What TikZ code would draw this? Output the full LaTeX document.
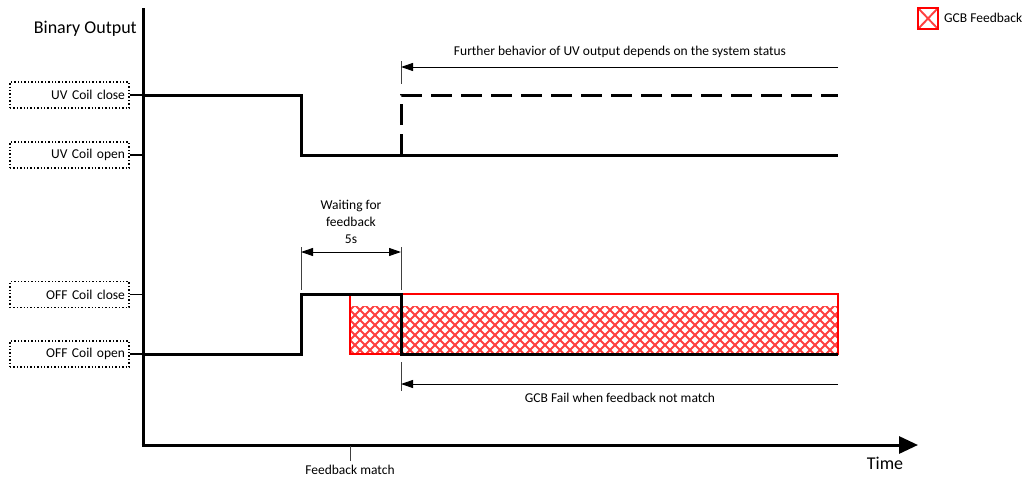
\documentclass[tikz,border=0pt]{standalone}
\usepackage{fontspec}
\setmainfont{Carlito}
\usetikzlibrary{arrows.meta}
\tikzset{
  lbl/.style={draw, dotted, line width=1.4pt, text width=111pt, align=right, inner sep=4pt,
              minimum height=26pt, font=\fontsize{13.5}{16}\selectfont},
  txt/.style={font=\fontsize{13.5}{17}\selectfont, inner sep=0pt, align=center},
  bigtxt/.style={font=\fontsize{18}{20}\selectfont, inner sep=0pt},
  sig/.style={line width=3pt, line join=miter},
  dsig/.style={line width=3pt, dash pattern=on 21pt off 9pt},
  thin/.style={line width=1pt, draw=black!75},
  stub/.style={line width=1.4pt},
  axis/.style={line width=3pt},
  tip/.style={-{Triangle[length=12pt,width=8pt]}},
  dtip/.style={{Triangle[length=12pt,width=8pt]}-{Triangle[length=12pt,width=8pt]}},
  hatch/.style={draw=red!75, line width=1.9pt},
  fb/.style={draw=red, line width=1.4pt},
}
\begin{document}
\begin{tikzpicture}[x=1pt,y=-1pt]
\useasboundingbox (0,0) rectangle (1027,479);
\fill[white] (0,0) rectangle (1027,479);

% axes
\coordinate (origin) at (143,445);
\coordinate (ytop) at (143,8);
\coordinate (xend) at (918,445);
\draw[axis] (ytop) -- (origin);
\draw[axis, -{Triangle[length=19pt,width=17pt]}] ([xshift=-1.5pt]origin) -- (xend);
\node[bigtxt, anchor=east] (ylabel) at (137,29) {Binary Output};
\node[bigtxt] (xlabel) at (885,463) {Time};

% level labels
\node[lbl] (uvc) at (69.5,95) {UV Coil close};
\node[lbl] (uvo) at (69.5,155) {UV Coil open};
\node[lbl] (offc) at (69.5,294.5) {OFF Coil close};
\node[lbl] (offo) at (69.5,354) {OFF Coil open};
\foreach \n/\y in {uvc/95,uvo/155,offc/294.5,offo/354}
  \draw[stub] (\n.east) -- (143,\y);

% hatched GCB feedback area
\begin{scope}
  \clip (350,306) rectangle (838,353);
  \foreach \x in {280,290,...,850} {
    \draw[hatch] (\x,300) -- ++(60,60);
    \draw[hatch] (\x,360) -- ++(60,-60);
  }
\end{scope}
\node[fb, minimum width=488pt, minimum height=60pt, inner sep=0pt] (gcb) at (594,324) {};

% UV signal
\coordinate (uv0) at (143,95);
\coordinate (uv1) at (301,95);
\coordinate (uv2) at (301,155);
\coordinate (uv3) at (838,155);
\draw[sig] (uv0) -- (uv1) -- (uv2) -- (uv3);
\coordinate (d0) at (401,155);
\coordinate (d1) at (401,95);
\coordinate (d2) at (838,95);
\draw[dsig] (d0) -- (d1) -- (d2);

% OFF signal
\coordinate (o0) at (143,354);
\coordinate (o1) at (301,354);
\coordinate (o2) at (301,294.5);
\coordinate (o3) at (401,294.5);
\coordinate (o4) at (401,354);
\coordinate (o5) at (838,354);
\draw[sig] (o0) -- (o1) -- (o2) -- (o3) -- (o4) -- (o5);

% further behaviour arrow
\coordinate (fa) at (401,67);
\coordinate (fb0) at (838,67);
\draw[thin] (401,61) -- (401,84);
\draw[line width=1pt, tip] (fb0) -- (fa);
\node[txt] (further) at (620,52) {Further behavior of UV output depends on the system status};

% waiting for feedback
\coordinate (w1) at (301,252);
\coordinate (w2) at (401,252);
\draw[thin] (301,247) -- (301,290);
\draw[thin] (401,247) -- (401,290);
\draw[line width=1pt, dtip] (w1) -- (w2);
\node[txt] (wait) at (351,222) {Waiting for\\feedback\\5s};

% GCB fail arrow
\coordinate (ga) at (401,384);
\coordinate (gb) at (838,384);
\draw[thin] (401,362) -- (401,391);
\draw[line width=1pt, tip] (gb) -- (ga);
\node[txt] (gfail) at (620,398) {GCB Fail when feedback not match};

% feedback match
\coordinate (fm) at (350,446);
\draw[thin] (fm) -- (350,461);
\node[txt] (fmatch) at (350,470) {Feedback match};

% legend
\begin{scope}
  \clip (918,8) rectangle (938,29);
  \draw[hatch] (918,8) -- (938,29);
  \draw[hatch] (918,29) -- (938,8);
\end{scope}
\node[fb, minimum width=20pt, minimum height=21pt, inner sep=0pt] (leg) at (928,18.5) {};
\node[txt, anchor=west] (legtxt) at (944,18) {GCB Feedback};
\end{tikzpicture}
\end{document}
